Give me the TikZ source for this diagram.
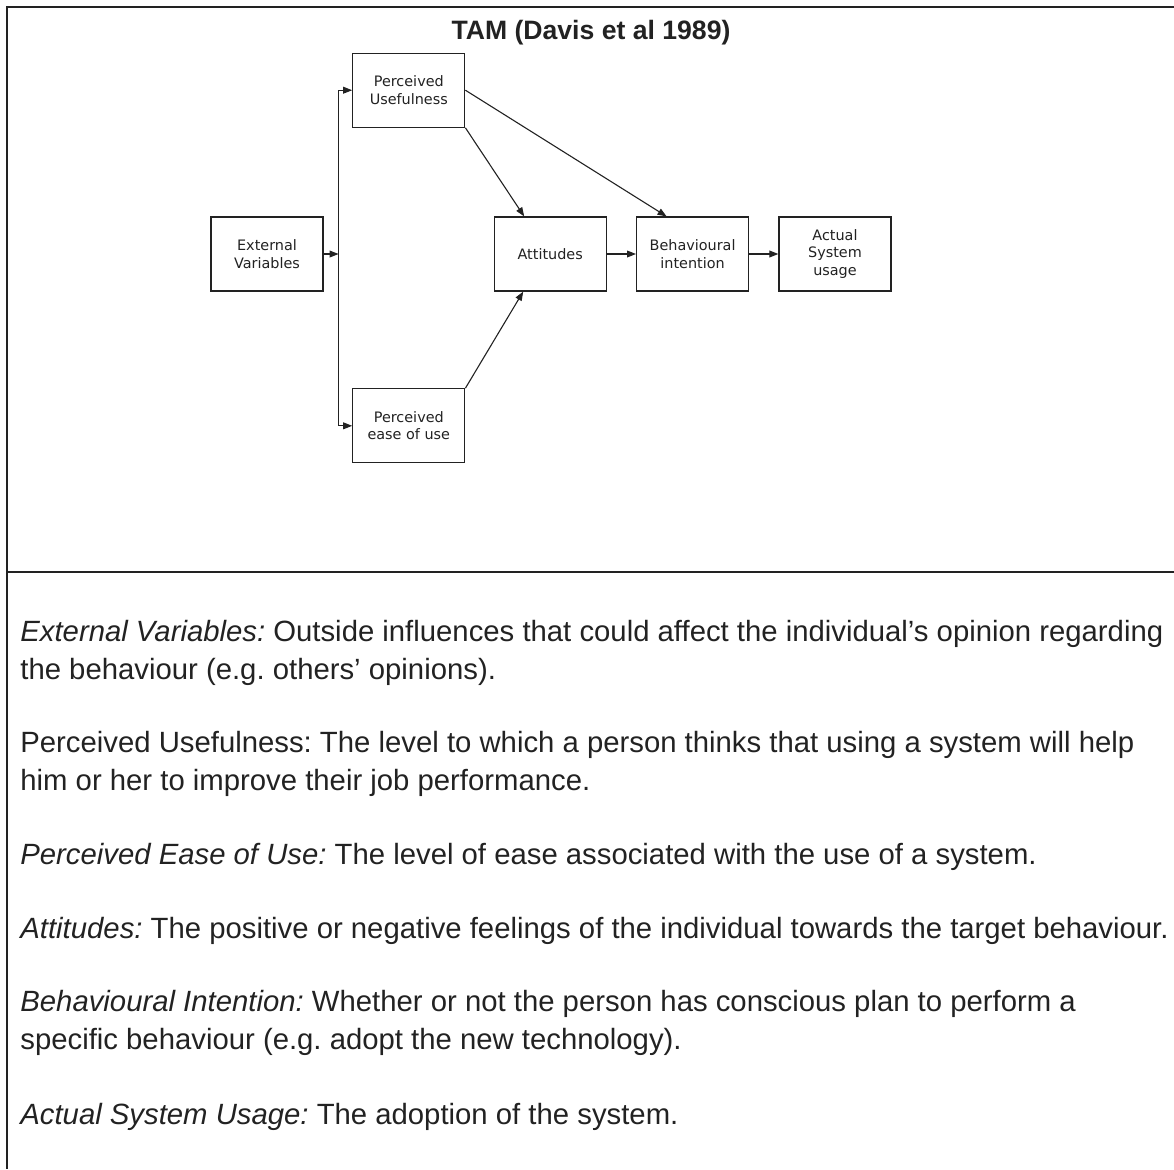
\documentclass[tikz,border=0pt]{standalone}
\usepackage{fontspec}
\setmainfont{Liberation Sans}
\newfontfamily\boxfont{DejaVu Sans}
\usetikzlibrary{positioning, arrows.meta}

\definecolor{ink}{HTML}{222222}
\frenchspacing

\begin{document}
\begin{tikzpicture}[
    x=0.5pt, y=-0.5pt,
    >={Triangle[length=4.5pt, width=3.4pt]},
    every node/.style={text=ink},
    box/.style={draw=ink, line width=0.6pt, minimum width=56pt, minimum height=37pt, inner sep=0pt, align=center, font=\boxfont\fontsize{7.2}{8.75}\selectfont},
    link/.style={draw=ink, line width=0.55pt, ->},
    frame/.style={draw=ink, line width=0.9pt},
    heading/.style={font=\bfseries\fontsize{13.3}{15}\selectfont, anchor=base, inner sep=0pt},
    para/.style={font=\fontsize{14.65}{18.6}\selectfont, anchor=base west, align=left, inner sep=0pt},
]
\useasboundingbox (0,0) rectangle (1174,1169);

% ── Frame: top rule, left rule and the split between model and notes ────────
\coordinate (tl) at (7,7);
\coordinate (tr) at (1174,7);
\coordinate (bl) at (7,1169);
\coordinate (ml) at (7,572);
\coordinate (mr) at (1174,572);
\draw[frame] (tr) -- (tl) -- (bl);
\draw[frame] (ml) -- (mr);

\node[heading] (title) at (591,39) {TAM (Davis et al 1989)};

% ── Model boxes ──────────────────────────────────────────────────────────────
\node[box] (ev) at (267,254) {External\\Variables};
\node[box, right=85pt of ev] (att) {Attitudes};
\node[box, right=14.6pt of att] (bi) {Behavioural\\intention};
\node[box, right=14.6pt of bi] (asu) {Actual\\System\\usage};
\node[box, above right=44.3pt and 14.3pt of ev] (pu) {Perceived\\Usefulness};
\node[box, below right=48.3pt and 14.3pt of ev] (peou) {Perceived\\ease of use};

% ── Links ────────────────────────────────────────────────────────────────────
\coordinate (fork) at ([xshift=7.5pt]ev.east);
\draw[link] (ev) -- (fork);
\draw[link, <->] (pu.west) -| (fork) |- (peou.west);
\draw[link] (pu.south east) -- ([xshift=-13pt]att.north);
\draw[link] (pu.east) -- ([xshift=-13pt]bi.north);
\draw[link] (peou.north east) -- ([xshift=-13.5pt]att.south);
\draw[link] (att) -- (bi);
\draw[link] (bi) -- (asu);

% ── Notes (base anchor sits on the last line) ────────────────────────────────
\node[para] (ev-note) at (20,679) {\textit{External Variables:} Outside influences that could affect the individual’s opinion regarding\\the behaviour (e.g. others’ opinions).};
\node[para] (pu-note) at (20,790) {Perceived Usefulness: The level to which a person thinks that using a system will help\\him or her to improve their job performance.};
\node[para] (peou-note) at (20,864) {\textit{Perceived Ease of Use:} The level of ease associated with the use of a system.};
\node[para] (att-note) at (20,938) {\textit{Attitudes:} The positive or negative feelings of the individual towards the target behaviour.};
\node[para] (bi-note) at (20,1049) {\textit{Behavioural Intention:} Whether or not the person has conscious plan to perform a\\specific behaviour (e.g. adopt the new technology).};
\node[para] (asu-note) at (20,1124) {\textit{Actual System Usage:} The adoption of the system.};

\end{tikzpicture}
\end{document}
